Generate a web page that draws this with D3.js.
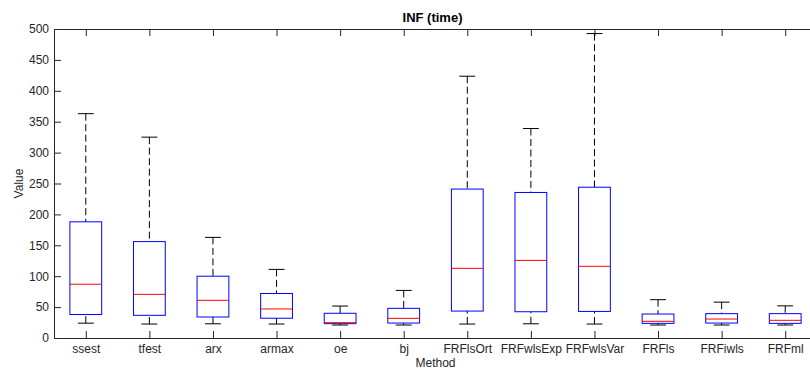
<!DOCTYPE html>
<html>
<head>
<meta charset="utf-8">
<script src="https://cdn.jsdelivr.net/npm/d3@7"></script>
<style>
  body { margin: 0; background: #fff; }
  text { font-family: "Liberation Sans", Arial, sans-serif; fill: #262626; }
</style>
</head>
<body>
<div id="chart"></div>
<script>
// box stats per method
const methods = ["ssest", "tfest", "arx", "armax", "oe", "bj", "FRFlsOrt", "FRFwlsExp", "FRFwlsVar", "FRFls", "FRFiwls", "FRFml"];
const whiskerLow  = [24, 22.6, 23, 22.6, 21, 21, 22.6, 23, 22.6, 21, 21, 21];
const q1          = [38, 36.7, 34, 32, 23.2, 24.2, 43.6, 42.5, 43, 23.7, 24.2, 23.7];
const median      = [87, 70.6, 61, 47, 24.8, 31.8, 112.7, 125.6, 116, 27, 30.7, 28.6];
const q3          = [188, 156, 100, 72, 40, 48, 241, 235.5, 244, 38.8, 39.4, 39.4];
const whiskerHigh = [363, 325, 162.8, 111, 51.7, 77, 423.6, 339, 492.6, 62, 58, 52];
const yTicks = [0, 50, 100, 150, 200, 250, 300, 350, 400, 450, 500];

const W = 810, H = 369;
const margin = {top: 29, bottom: 31, left: 54, right: -7};
const width = W - margin.left - margin.right;
const height = H - margin.top - margin.bottom;

const svg = d3.select("#chart").append("svg")
  .attr("width", W)
  .attr("height", H);

const g = svg.append("g")
  .attr("transform", "translate(" + margin.left + "," + margin.top + ")");

const x = d3.scalePoint().domain(methods).range([0, width]).padding(0.5);
const y = d3.scaleLinear().domain([0, 500]).range([height, 0]);
const step = x.step();
const boxW = step * 0.5, capW = step * 0.25;

const data = methods.map(function(m, i) {
  return {name: m, lo: whiskerLow[i], q1: q1[i], med: median[i], q3: q3[i], hi: whiskerHigh[i]};
});

// axes, ticks pointing inward like matlab
function styleAxis(sel) {
  sel.selectAll("path, line").attr("stroke", "#262626");
  sel.selectAll("text").style("font-size", "12px").attr("fill", "#262626");
}
g.append("g").attr("transform", "translate(0," + height + ")")
  .call(d3.axisBottom(x).tickSize(-7).tickSizeOuter(0).tickPadding(6))
  .call(styleAxis);
g.append("g")
  .call(d3.axisTop(x).tickSize(-7).tickSizeOuter(0).tickFormat(""))
  .call(styleAxis);
g.append("g")
  .call(d3.axisLeft(y).tickValues(yTicks).tickSize(-7).tickSizeOuter(0).tickPadding(5))
  .call(styleAxis);
g.append("g").attr("transform", "translate(" + width + ",0)")
  .call(d3.axisRight(y).tickValues(yTicks).tickSize(-7).tickSizeOuter(0).tickFormat(""))
  .call(styleAxis);

const box = g.selectAll(".box").data(data).enter().append("g").attr("class", "box");

// whiskers
box.append("line")
  .attr("x1", d => x(d.name)).attr("x2", d => x(d.name))
  .attr("y1", d => y(d.hi)).attr("y2", d => y(d.q3))
  .attr("stroke", "#000").attr("stroke-dasharray", "7,3.5");
box.append("line")
  .attr("x1", d => x(d.name)).attr("x2", d => x(d.name))
  .attr("y1", d => y(d.lo)).attr("y2", d => y(d.q1))
  .attr("stroke", "#000").attr("stroke-dasharray", "7,3.5");
box.append("line")
  .attr("x1", d => x(d.name) - capW / 2).attr("x2", d => x(d.name) + capW / 2)
  .attr("y1", d => y(d.hi)).attr("y2", d => y(d.hi))
  .attr("stroke", "#000");
box.append("line")
  .attr("x1", d => x(d.name) - capW / 2).attr("x2", d => x(d.name) + capW / 2)
  .attr("y1", d => y(d.lo)).attr("y2", d => y(d.lo))
  .attr("stroke", "#000");

// boxes
box.append("rect")
  .attr("x", d => x(d.name) - boxW / 2)
  .attr("y", d => y(d.q3))
  .attr("width", boxW)
  .attr("height", d => y(d.q1) - y(d.q3))
  .attr("fill", "none")
  .attr("stroke", "#0000ff");
box.append("line")
  .attr("x1", d => x(d.name) - boxW / 2).attr("x2", d => x(d.name) + boxW / 2)
  .attr("y1", d => y(d.med)).attr("y2", d => y(d.med))
  .attr("stroke", "#ff0000");

// labels
svg.append("text")
  .attr("x", margin.left + width / 2 - 3)
  .attr("y", 22)
  .attr("text-anchor", "middle")
  .style("font-size", "13px")
  .style("font-weight", "bold")
  .style("fill", "#000")
  .text("INF (time)");

svg.append("text")
  .attr("x", margin.left + width / 2)
  .attr("y", 367)
  .attr("text-anchor", "middle")
  .style("font-size", "12px")
  .text("Method");

svg.append("text")
  .attr("transform", "translate(23," + (margin.top + height / 2) + ") rotate(-90)")
  .attr("text-anchor", "middle")
  .style("font-size", "12px")
  .text("Value");
</script>
</body>
</html>
